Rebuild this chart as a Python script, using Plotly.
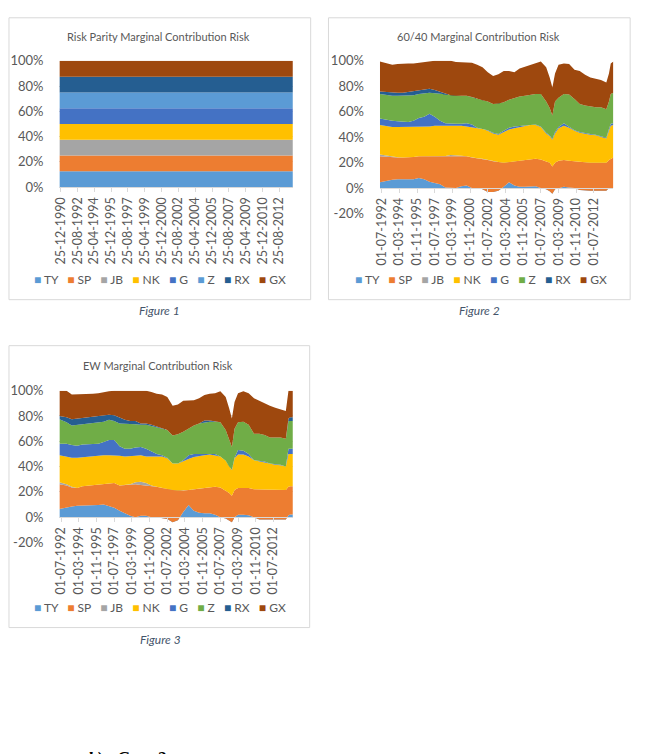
import plotly.graph_objects as go

W, H = 645, 754

# ---------------- data ----------------
series_names = ["TY", "SP", "JB", "NK", "G", "Z", "RX", "GX"]
colors_rp = ["#5B9BD5", "#ED7D31", "#A5A5A5", "#FFC000", "#4472C4", "#5B9BD5", "#255E91", "#9E480E"]
colors_mc = ["#5B9BD5", "#ED7D31", "#A5A5A5", "#FFC000", "#4472C4", "#70AD47", "#255E91", "#9E480E"]

# Figure 1: Risk Parity (equal 12.5% contribution each)
rp_dates = ["1990-11-10", "2013-12-25"]
rp_ty = [12.5, 12.5]
rp_sp = [12.5, 12.5]
rp_jb = [12.5, 12.5]
rp_nk = [12.5, 12.5]
rp_g = [12.5, 12.5]
rp_z = [12.5, 12.5]
rp_rx = [12.5, 12.5]
rp_gx = [12.5, 12.5]

rp_tick_dates = ["1990-12-25", "1992-08-25", "1994-04-25", "1995-12-25", "1997-08-25", "1999-04-25",
                 "2000-12-25", "2002-08-25", "2004-04-25", "2005-12-25", "2007-08-25", "2009-04-25",
                 "2010-12-25", "2012-08-25"]
rp_tick_labels = ["25-12-1990", "25-08-1992", "25-04-1994", "25-12-1995", "25-08-1997", "25-04-1999",
                  "25-12-2000", "25-08-2002", "25-04-2004", "25-12-2005", "25-08-2007", "25-04-2009",
                  "25-12-2010", "25-08-2012"]

# Figures 2 and 3 share the same dates
mc_dates = ["1992-05-01", "1993-01-01", "1993-07-01", "1994-01-01", "1994-07-01", "1995-01-01",
            "1995-07-01", "1996-01-01", "1996-07-01", "1997-01-01", "1997-07-01", "1998-01-01",
            "1998-07-01", "1999-01-01", "1999-07-01", "2000-01-01", "2000-07-01", "2001-01-01",
            "2001-07-01", "2002-01-01", "2002-07-01", "2003-01-01", "2003-07-01", "2004-01-01",
            "2004-07-01", "2005-01-01", "2005-07-01", "2006-01-01", "2006-07-01", "2007-01-01",
            "2007-07-01", "2008-01-01", "2008-05-01", "2008-08-01", "2008-11-01", "2009-03-01",
            "2009-09-01", "2010-03-01", "2010-09-01", "2011-03-01", "2011-09-01", "2012-03-01",
            "2012-09-01", "2013-03-01", "2013-09-01", "2013-12-01", "2014-02-01", "2014-05-01"]

mc_tick_dates = ["1992-07-01", "1994-03-01", "1995-11-01", "1997-07-01", "1999-03-01", "2000-11-01",
                 "2002-07-01", "2004-03-01", "2005-11-01", "2007-07-01", "2009-03-01", "2010-11-01",
                 "2012-07-01"]
mc_tick_labels = ["01-07-1992", "01-03-1994", "01-11-1995", "01-07-1997", "01-03-1999", "01-11-2000",
                  "01-07-2002", "01-03-2004", "01-11-2005", "01-07-2007", "01-03-2009", "01-11-2010",
                  "01-07-2012"]

# Figure 2: 60/40 (%)
b60_ty = [4.6, 6, 6.5, 7, 7, 7, 7, 8, 7, 5, 4, 3, 0.5, 0, 0, 1.5, 2, 0, 0, -1, -3, -3, -2, 1,
          4.5, 2, 1, 1, 1.5, 1.5, 0, -1, -2.5, -4.5, -1, 0, 1, 0.5, 0, -1.5, -2, -2, -2, -2, -2, 0, 0, 0]
b60_sp = [20.4, 18.5, 17.5, 17, 17, 17, 17.5, 17, 18, 20, 21, 22, 24.5, 25, 25, 23, 23, 24, 23.5, 24,
          25, 24, 22.5, 19, 16, 19, 21, 21.5, 21.5, 21.5, 22.5, 22, 22.5, 21.5, 21, 21.5, 21, 21, 21,
          22.5, 22.5, 22, 22, 22, 22, 22, 23, 24]
b60_jb = [1.4, 1, 0.5, 0.3, 0, 0, 0, 0, 0, 0, 0, 0, 0.3, 1, 1, 1, 0, 0, 0, 0, 0, 0, 0, 0,
          0, 0, 0, 0, 0, 0, 0, 0, 0, 0, 0, 0, 0, 0, 0, 0, 0, 0, 0, 0, 0, 0, 0, 0]
b60_nk = [23.1, 23, 23.5, 23.7, 24, 24, 23.5, 23, 23, 23.5, 24, 24, 24.2, 23.5, 23.5, 23.5, 23.5, 24,
          23.5, 23.5, 23, 22, 21.5, 24, 25.5, 26, 26, 26.5, 26.5, 26.5, 25.5, 22, 21, 21, 23, 25.5,
          27, 26, 24, 22.5, 22, 22, 21.5, 20.5, 19, 23, 26, 25.5]
b60_g = [5.1, 5, 5, 4.5, 4, 4, 5, 7, 8, 10, 7, 4, 1.5, 1, 1, 1.5, 2.5, 2, 0.5, 0, 0.5, 0.5, 0.5, 1,
         1.5, 1.5, 1, 0.5, 0.5, 0.5, 0.5, 0.5, 0.5, 0.5, 1, 1, 2, 1, 0.5, 0.5, 0.5, 0.5, 0.5, 0.5,
         0.5, 1.5, 1.5, 1.5]
b60_z = [19.4, 19.5, 19.5, 20, 20.5, 20.5, 20, 19, 18.5, 16.5, 18.5, 21, 23, 22.5, 22, 22, 21.5, 21.5,
         22.5, 22.5, 22.5, 22.5, 24, 22.5, 22, 22.5, 23, 23, 23.5, 24, 25.5, 24.5, 21.5, 18.5, 24, 23,
         23, 25, 24.5, 22, 22, 21.5, 21.5, 22.5, 22.5, 21.5, 23.5, 24]
b60_rx = [2, 2.5, 2.5, 2.5, 2.5, 3, 3, 2.5, 3, 3, 2.5, 1.5, 0.5, 0, 0, 0, 0, 0, 0, 0, 0, 0, 0, 0,
          0, 0, 0, 0, 0, 0, 0, 0, 0, 0, 0, 0, 0, 0, 0, 0, 0, 0, 0, 0, 0, 0, 0, 0]
b60_gx = [23.5, 22.5, 22, 22.5, 23, 22.5, 22, 22, 21.5, 22, 23, 24.5, 25.5, 27, 26.5, 26.5, 26.5, 27,
          27, 26, 23, 22, 23, 24.5, 22.5, 20, 22, 23, 23.5, 24, 25.5, 27, 24, 22, 22, 26, 24, 24, 23,
          26, 24, 23, 22.5, 21.5, 21, 22, 24, 24.5]

# Figure 3: Equal Weight (%)
ew_ty = [6.5, 7.8, 8.5, 9, 9, 9, 9, 9.5, 10, 9, 7.5, 5, 3, 1, 0, 1, 1, 0, 0, -0.5, -1.5, -4, -2.5, 4,
         9.5, 5, 3.5, 3, 3, 1.8, 0, -1, -3, -4, 0, 1.8, 1.8, 1.5, 0, -1.8, -1.8, -1.8, -1.8, -1.8,
         -1.8, 1.5, 2, 2]
ew_sp = [19.5, 17.2, 15, 14, 15.5, 16, 16.5, 16.5, 16, 17.5, 19.5, 20, 22.5, 24.5, 26, 24.5, 24, 25,
         24, 23.5, 24, 25.5, 23.5, 17, 12, 17, 19, 20, 20.5, 22.2, 23.5, 22, 22, 21, 21.5, 21.2, 21.2,
         21.5, 22, 23.8, 23.3, 23.3, 23.3, 23.3, 23.3, 22.5, 22.5, 22.5]
ew_jb = [1.5, 1, 0.5, 0, 0, 0, 0, 0, 0, 0, 0, 0, 0, 0.5, 1.5, 2.5, 2, 0, 0, 0, 0, 0, 0, 0,
         0, 0, 0, 0, 0, 0, 0, 0, 0, 0, 0, 0, 0, 0, 0, 0, 0, 0, 0, 0, 0, 0, 0, 0]
ew_nk = [21.5, 22, 23, 24, 23, 23, 23, 23, 23, 22.5, 22, 23.5, 22.5, 22, 21, 21, 21, 23, 24, 25, 24,
         21, 21.5, 23.5, 24.5, 25.5, 26, 26, 26, 25, 24.5, 23.5, 21, 20, 25, 26.5, 26.5, 25, 23, 22,
         22, 20.5, 20, 19.5, 18.5, 26, 25.5, 25.5]
ew_g = [9, 10, 10, 9.5, 10, 9.5, 9, 9, 10.5, 12, 12, 7.5, 6, 6, 6.5, 6.5, 6, 4, 2, 1, 0.5, 0, 0, 0.5,
        3, 2.5, 1.5, 1, 0.5, 1, 0, 0, 0, 0.5, 0.5, 3.5, 3, 2, 0, 0.5, 0.5, 0.5, 0.5, 0.5, 0, 4, 4, 4]
ew_z = [19.5, 17, 15.5, 16.5, 16.5, 17, 17.5, 17.5, 16, 16, 15, 18, 20, 19.5, 18.5, 17.5, 19, 20, 21,
        21, 22, 22, 23, 22.5, 21, 22.5, 24, 25, 25.5, 25.5, 27, 24.5, 22, 18, 23, 22, 23, 23, 21,
        21.5, 21, 20.5, 21, 21.5, 22, 22, 22, 22]
ew_rx = [2.5, 4, 5, 5, 4, 4, 4, 4, 4.5, 4, 4.5, 4.5, 3, 2.5, 2.5, 1, 1, 1, 0.5, 0, 0, 0, 0, 0,
         0, 0, 0, 1.5, 1, 0.5, 0, 0, 0, 0, 0, 0, 0, 0, 0, 0, 0, 0, 0, 0, 0, 2, 3, 3]
ew_gx = [20, 21, 19.5, 19, 19, 18.5, 18.5, 18.5, 19, 18.5, 19.5, 21.5, 22.5, 23.5, 24, 26, 26, 26, 26,
         27, 26, 23.5, 23.5, 24.5, 22.5, 20, 20, 20, 21, 22, 24.5, 26, 24, 22.5, 21, 23, 24, 25, 28,
         26, 24.5, 25, 23.5, 22, 22, 22, 21, 21]

rp_y_ticks = [0, 20, 40, 60, 80, 100]
mc_y_ticks = [-20, 0, 20, 40, 60, 80, 100]

# ---------------- helpers ----------------
def px_x(a, b):
    return [a / W, b / W]


def px_y(top, bottom):
    return [1 - bottom / H, 1 - top / H]


FONT = "Lato, 'Open Sans', sans-serif"
GREY_TXT = "#595959"
GRID = "#D9D9D9"

fig = go.Figure()


def add_stack(xaxis, yaxis, dates, values_list, colors, group):
    for name, vals, col in zip(series_names, values_list, colors):
        fig.add_trace(go.Scatter(
            x=dates, y=vals, name=name, mode="lines", stackgroup=group,
            line=dict(width=0, color=col), fillcolor=col,
            xaxis=xaxis, yaxis=yaxis, showlegend=False, hoverinfo="skip"))


add_stack("x", "y", rp_dates, [rp_ty, rp_sp, rp_jb, rp_nk, rp_g, rp_z, rp_rx, rp_gx], colors_rp, "rp")
add_stack("x2", "y2", mc_dates, [b60_ty, b60_sp, b60_jb, b60_nk, b60_g, b60_z, b60_rx, b60_gx], colors_mc, "b60")
add_stack("x3", "y3", mc_dates, [ew_ty, ew_sp, ew_jb, ew_nk, ew_g, ew_z, ew_rx, ew_gx], colors_mc, "ew")

# plot areas (pixels)
c1 = dict(x=(53, 289), y=(54, 183))
c2 = dict(x=(377, 613), y=(54, 210))
c3 = dict(x=(53, 289), y=(391, 546))


def zero_pos(c, lo, hi):
    top, bottom = c["y"]
    ypx = bottom - (0 - lo) / (hi - lo) * (bottom - top)
    return 1 - ypx / H


xtickfont = dict(family=FONT, size=12.5, color=GREY_TXT)
ytickfont = dict(family=FONT, size=13, color=GREY_TXT)

xcommon = dict(type="date", tickangle=-90,
               ticks="outside", ticklen=4, tickcolor=GRID, showline=True, linecolor=GRID,
               showgrid=False, zeroline=False, tickfont=xtickfont, fixedrange=True)
ycommon = dict(showgrid=True, gridcolor=GRID, gridwidth=1, zeroline=False, showline=False,
               ticks="", tickfont=ytickfont, ticklabelstandoff=15, fixedrange=True)

fig.update_layout(
    width=W, height=H, autosize=False,
    margin=dict(l=0, r=0, t=0, b=0),
    paper_bgcolor="white", plot_bgcolor="white",
    showlegend=False,
    xaxis=dict(xcommon, domain=px_x(*c1["x"]), anchor="y",
               tickvals=rp_tick_dates, ticktext=rp_tick_labels,
               range=[rp_dates[0], rp_dates[-1]]),
    yaxis=dict(ycommon, domain=px_y(*c1["y"]), anchor="x", range=[0, 100],
               tickvals=rp_y_ticks, ticktext=[f"{v}%" for v in rp_y_ticks]),
    xaxis2=dict(xcommon, domain=px_x(*c2["x"]), anchor="free", position=zero_pos(c2, -20, 100),
                tickvals=mc_tick_dates, ticktext=mc_tick_labels,
                range=[mc_dates[0], mc_dates[-1]]),
    yaxis2=dict(ycommon, domain=px_y(*c2["y"]), anchor="x2", range=[-20, 100],
                tickvals=mc_y_ticks, ticktext=[f"{v}%" for v in mc_y_ticks]),
    xaxis3=dict(xcommon, domain=px_x(*c3["x"]), anchor="free", position=zero_pos(c3, -20, 100),
                tickvals=mc_tick_dates, ticktext=mc_tick_labels,
                range=[mc_dates[0], mc_dates[-1]]),
    yaxis3=dict(ycommon, domain=px_y(*c3["y"]), anchor="x3", range=[-20, 100],
                tickvals=mc_y_ticks, ticktext=[f"{v}%" for v in mc_y_ticks]),
)

# chart borders
for (x0, y0, x1, y1) in [(2, 10, 307, 298), (325, 10, 630, 298), (2, 345, 306, 633)]:
    fig.add_shape(type="rect", xref="paper", yref="paper",
                  x0=x0 / W, x1=x1 / W, y0=1 - y1 / H, y1=1 - y0 / H,
                  line=dict(color=GRID, width=1), fillcolor="rgba(0,0,0,0)", layer="below")


def ann(text, x, y, size=11, color=GREY_TXT, family=FONT, xanchor="center", yanchor="middle"):
    fig.add_annotation(text=text, x=x / W, y=1 - y / H, xref="paper", yref="paper",
                       showarrow=False, xanchor=xanchor, yanchor=yanchor,
                       font=dict(family=family, size=size, color=color))


# titles
ann("Risk Parity Marginal Contribution Risk", 153, 29, size=11)
ann("60/40 Marginal Contribution Risk", 477, 29, size=11)
ann("EW Marginal Contribution Risk", 153, 365, size=11)


# legends (Excel-style square keys)
def legend_text(colors):
    parts = [f"<span style='color:{c}'>\u25A0</span>\u00a0{n}" for n, c in zip(series_names, colors)]
    return "\u00a0\u00a0\u00a0".join(parts)


ann(legend_text(colors_rp), 155, 277, size=12)
ann(legend_text(colors_mc), 479, 277, size=12)
ann(legend_text(colors_mc), 155, 613, size=12)

# captions
CAP = "#44546A"
ann("<i>Figure 1</i>", 154, 309, size=12, color=CAP)
ann("<i>Figure 2</i>", 478, 309, size=12, color=CAP)
ann("<i>Figure 3</i>", 155, 645, size=12, color=CAP)

# cut-off body text at the page bottom (only its top is visible, as on the page)
ann("<b><i>b)\u00a0\u00a0\u00a0Case 2</i></b>", 80, 755, size=18, color="#000000",
    family="'Liberation Serif', serif", xanchor="left", yanchor="top")

fig.write_html("out.html")
